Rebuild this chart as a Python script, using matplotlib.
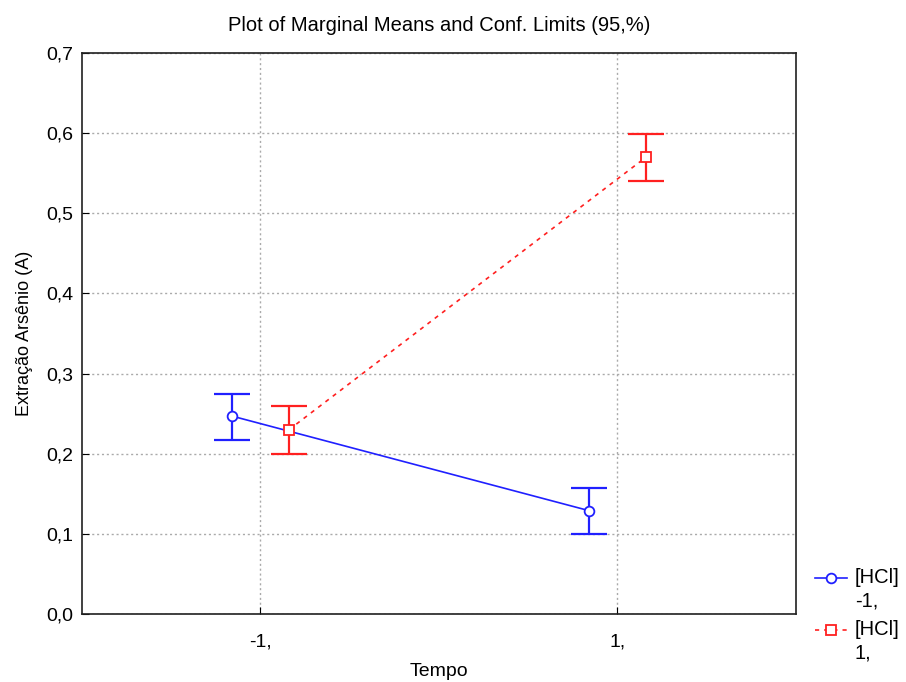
import matplotlib.pyplot as plt
from matplotlib.lines import Line2D
from matplotlib.ticker import FuncFormatter

plt.rcParams['font.family'] = ['Liberation Sans', 'DejaVu Sans']

tempo = [-1, 1]
hcl_low_mean = [0.247, 0.129]
hcl_low_lo = [0.217, 0.100]
hcl_low_hi = [0.274, 0.157]
hcl_high_mean = [0.230, 0.570]
hcl_high_lo = [0.200, 0.540]
hcl_high_hi = [0.259, 0.599]
offset = 0.16

BLUE = '#2020ff'
RED = '#ff2020'

fig = plt.figure(figsize=(9.06, 6.82), dpi=100)
ax = fig.add_axes([0.0905, 0.0997, 0.788, 0.8226])

def draw(x0, m, lo, hi, color, marker, ls, dx):
    xs = [x + dx for x in x0]
    err = [[a - b for a, b in zip(m, lo)], [b - a for a, b in zip(m, hi)]]
    ax.errorbar(xs, m, yerr=err, color=color, ls='none', capsize=13, capthick=1.6,
                elinewidth=1.6, zorder=3)
    ax.plot(xs, m, color=color, ls=ls, lw=1.2, marker=marker, ms=7,
            mfc='white', mec=color, mew=1.3, zorder=4)

draw(tempo, hcl_low_mean, hcl_low_lo, hcl_low_hi, BLUE, 'o', '-', -offset)
draw(tempo, hcl_high_mean, hcl_high_lo, hcl_high_hi, RED, 's', (0, (2.5, 3)), offset)

ax.set_xlim(-2, 2)
ax.set_ylim(0, 0.7)
ax.set_xticks(tempo)
ax.set_xticklabels(['-1,', '1,'])
ax.set_yticks([i / 10 for i in range(8)])
ax.yaxis.set_major_formatter(FuncFormatter(lambda v, p: ('%.1f' % v).replace('.', ',')))
ax.tick_params(direction='in', length=5, labelsize=14)
ax.tick_params(axis='x', pad=14)
ax.tick_params(axis='y', pad=6)
ax.grid(True, color='#aaaaaa', ls=(0, (1.5, 2)), lw=1)
for s in ax.spines.values():
    s.set_linewidth(1.2)
    s.set_color('#202020')

ax.set_title('Plot of Marginal Means and Conf. Limits (95,%)', fontsize=14.5, pad=16)
ax.set_xlabel('Tempo', fontsize=14, labelpad=9)
ax.set_ylabel('Extração Arsênio (A)', fontsize=13, labelpad=10)

# legend drawn by hand so each handle sits on the first text line
W, H = 906, 682
entries = [('[HCl]\n-1,', BLUE, 'o', '-', 578), ('[HCl]\n1,', RED, 's', (0, (2.5, 3)), 630)]
for label, color, marker, ls, ypx in entries:
    y = 1 - ypx / H
    fig.add_artist(Line2D([815 / W, 847 / W], [y, y], color=color, ls=ls, lw=1.2))
    fig.add_artist(Line2D([831 / W], [y], color=color, marker=marker, ms=7,
                          mfc='white', mec=color, mew=1.3))
    fig.text(855 / W, y + 10 / H, label, fontsize=14.5, va='top', ha='left', linespacing=1.3)

fig.savefig('out.png', dpi=100)
